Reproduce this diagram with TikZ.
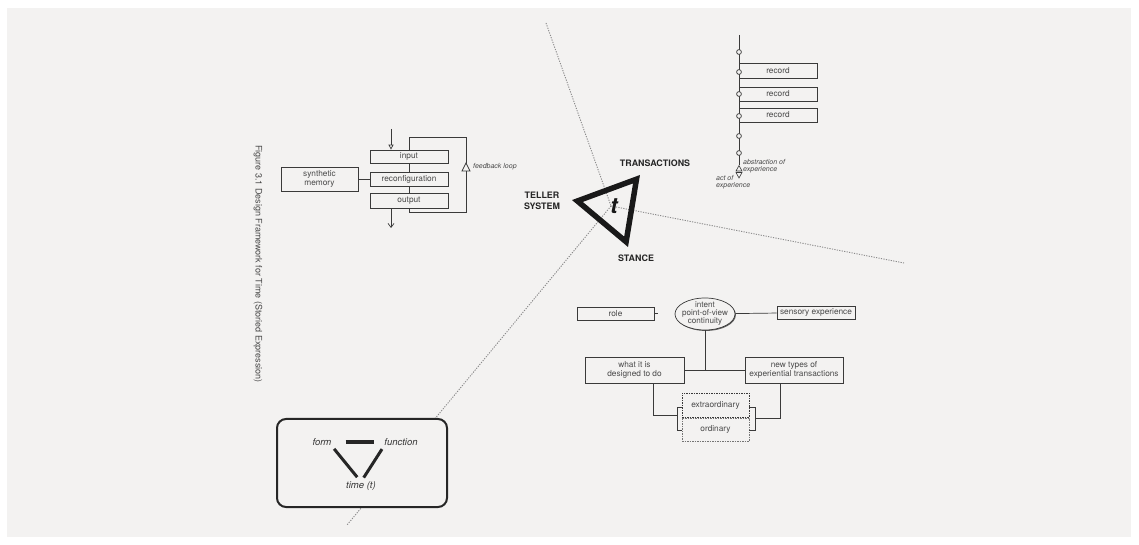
\documentclass[tikz,border=0pt]{standalone}
\usepackage{fontspec}
\setmainfont{TeX Gyre Heros}
\usetikzlibrary{shapes.geometric,arrows.meta,shadows}
\definecolor{bg}{HTML}{F3F2F1}
\definecolor{ln}{HTML}{3A3A3A}
\definecolor{tx}{HTML}{4A4A4A}
\definecolor{dotc}{HTML}{8A8A8A}
\tikzset{
 lbl/.style={font=\fontsize{8.3bp}{9bp}\selectfont, text=tx, align=center},
 bx/.style={lbl, draw=ln, line width=0.7bp, fill=bg, inner sep=0pt,
   drop shadow={shadow xshift=0.9bp, shadow yshift=-0.9bp, fill=ln, opacity=0.8}},
 dbx/.style={lbl, draw=ln, line width=0.8bp, dash pattern=on 1.5bp off 1bp, fill=bg, inner sep=0pt},
 conn/.style={draw=ln, line width=0.7bp},
 dotl/.style={draw=dotc, line width=0.9bp, dash pattern=on 1.2bp off 1.3bp},
 small/.style={font=\fontsize{7bp}{6.8bp}\selectfont\itshape, text=tx, inner sep=0pt},
 caps/.style={font=\fontsize{8.9bp}{10.5bp}\selectfont\bfseries, text=black!85, align=center, inner sep=0pt},
 ital/.style={font=\fontsize{9.5bp}{10bp}\selectfont\itshape, text=black!80, inner sep=0pt},
}
\begin{document}
\begin{tikzpicture}[x=1bp,y=-1bp]
\useasboundingbox (0,0) rectangle (1139,545);
\fill[white] (0,0) rectangle (1139,545);
\fill[bg] (7,8) rectangle (1131,537);

% dotted axes
\coordinate (ctr) at (611,206);
\coordinate (dtop) at (546,23);
\coordinate (dright) at (904,263);
\coordinate (dbl) at (347,525);
\draw[dotl] (dtop) -- (ctr);
\draw[dotl] (ctr) -- (dright);
\draw[dotl] (ctr) -- (dbl);

% caption
\node[rotate=-90, font=\fontsize{9bp}{10bp}\selectfont, text=tx] (cap) at (258,264) {Figure 3.1 Design Framework for Time (Storied Expression)};

% left block
\node[bx, minimum width=78bp, minimum height=13bp] (input) at (409,156.5) {input};
\node[bx, minimum width=78bp, minimum height=14bp] (reconf) at (409,179) {reconfiguration};
\node[bx, minimum width=78bp, minimum height=15bp] (output) at (409,200.5) {output};
\node[bx, minimum width=77bp, minimum height=24bp] (synth) at (319.5,179) {synthetic\\memory};
\draw[conn] (input) -- (reconf);
\draw[conn] (reconf) -- (output);
\draw[conn] (synth) -- (reconf);
\coordinate (fbtl) at (409,137);
\coordinate (fbtr) at (466,137);
\coordinate (fbbr) at (466,212);
\coordinate (fbbl) at (409,212);
\draw[conn] (output.south) -- (fbbl) -- (fbbr) -- (fbtr) -- (fbtl) -- (input.north);
\coordinate (inTop) at (391,129);
\draw[conn, -{Triangle[open, length=5bp, width=5bp]}] (inTop) -- (inTop |- input.north);
\coordinate (outEnd) at (391,228);
\draw[conn, -{Straight Barb[length=4bp, width=6bp]}] (outEnd |- output.south) -- (outEnd);
\draw[conn, fill=bg] (462,171) -- (470,171) -- (466,163) -- cycle;
\node[small, anchor=west] (fbl) at (473,167) {feedback loop};

% record column
\node[bx, minimum width=78bp, minimum height=15bp] (r1) at (778,70.5) {record};
\node[bx, minimum width=78bp, minimum height=14bp] (r2) at (778,94) {record};
\node[bx, minimum width=78bp, minimum height=14bp] (r3) at (778,115) {record};
\coordinate (rtop) at (739,35);
\coordinate (rbot) at (739,165);
\draw[conn] (rtop) -- (rbot);
\foreach \yy in {52,72,94,116,136,153} \draw[conn, fill=bg] (739,\yy) circle (2.4bp);
\draw[conn, fill=bg, line width=0.6bp] (736,171) -- (742,171) -- (739,165.5) -- cycle;
\draw[conn, fill=bg, line width=0.6bp] (736,172.5) -- (742,172.5) -- (739,178) -- cycle;
\node[small, anchor=west, align=left] (abs) at (743,166.5) {abstraction of\\experience};
\node[small, anchor=west, align=left] (act) at (716,182) {act of\\experience};

% center triangle
\coordinate (tv1) at (577.4,201);
\coordinate (tv2) at (636.5,179.2);
\coordinate (tv3) at (626.1,241.8);
\draw[line width=5.5bp, line join=miter, black!90] (tv1) -- (tv2) -- (tv3) -- cycle;
\node[font=\fontsize{22bp}{22bp}\selectfont\bfseries\itshape, text=black!90, inner sep=0pt] (tt) at (614,206) {t};
\node[caps] (trans) at (655,163) {TRANSACTIONS};
\node[caps] (teller) at (542,201) {TELLER\\SYSTEM};
\node[caps] (stance) at (636,258) {STANCE};

% bottom-left box
\node[draw=black!85, line width=2bp, rounded corners=9bp, fill=bg, minimum width=170bp, minimum height=88bp] (tbox) at (362,463) {};
\node[ital] (form) at (322,442) {form};
\node[ital] (func) at (401,442) {function};
\node[ital] (time) at (361,486.5) {time (t)};
\draw[line width=3.2bp, black!85, shorten <=14bp, shorten >=10bp] (form.east) -- (func.west);
\draw[line width=3bp, black!85, shorten <=4bp, shorten >=6bp] (form.south east) -- (time.north);
\draw[line width=3bp, black!85, shorten <=4bp, shorten >=5bp] (func.south west) -- (time.north);

% bottom-right diagram
\node[bx, minimum width=77bp, minimum height=13bp] (role) at (615.5,313.5) {role};
\node[bx, ellipse, inner xsep=-2bp, inner ysep=-1bp, minimum width=60bp, minimum height=32bp,
  font=\fontsize{8.1bp}{8bp}\selectfont] (ell) at (705,314) {intent\\point-of-view\\continuity};
\node[bx, minimum width=78bp, minimum height=13bp] (sens) at (816,312.5) {sensory experience};
\node[bx, minimum width=99bp, minimum height=26bp] (what) at (634.5,370) {what it is\\designed to do};
\node[bx, minimum width=98bp, minimum height=26bp] (newt) at (794,370) {new types of\\experiential transactions};
\node[dbx, minimum width=67bp, minimum height=24bp] (extra) at (715.5,405) {extraordinary};
\node[dbx, draw=ln!70, minimum width=67bp, minimum height=23bp] (ordin) at (715.5,429.5) {ordinary};

\coordinate (rolestub) at (658,313.5);
\draw[conn] (role) -- (rolestub);
\draw[conn] (ell) -- (sens);
\coordinate (jn) at (705,370);
\draw[conn] (ell) -- (jn);
\draw[conn] (what) -- (newt);
\coordinate (lb1) at (653,415);
\coordinate (lbT) at (677,407.5);
\coordinate (lbB) at (677,430);
\draw[conn] (what.south -| lb1) -- (lb1) -- (lb1 -| lbT);
\draw[conn] (extra.west |- lbT) -- (lbT) -- (lbB) -- (ordin.west |- lbB);
\coordinate (rb1) at (780,418);
\coordinate (rbT) at (755,407.5);
\coordinate (rbB) at (755,430);
\draw[conn] (newt.south -| rb1) -- (rb1) -- (rb1 -| rbT);
\draw[conn] (extra.east |- rbT) -- (rbT) -- (rbB) -- (ordin.east |- rbB);
\end{tikzpicture}
\end{document}
